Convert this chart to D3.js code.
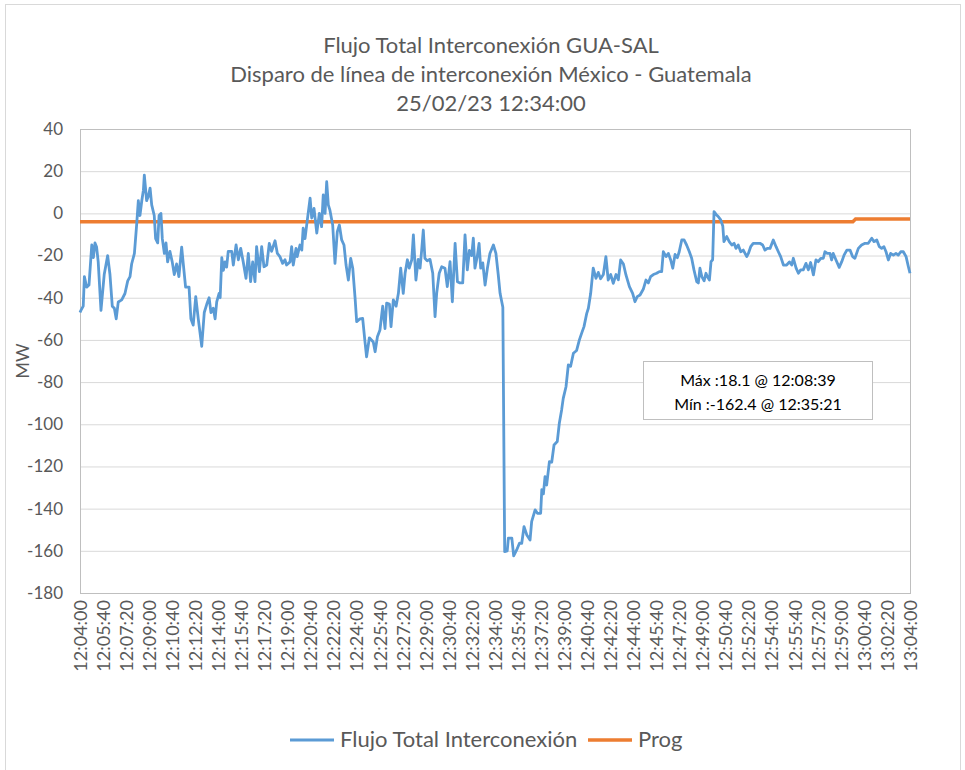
<!DOCTYPE html>
<html><head><meta charset="utf-8">
<script src="https://cdn.jsdelivr.net/npm/d3@7"></script>
<style>body{margin:0;background:#fff}svg{display:block;font-family:Lato,"Liberation Sans",sans-serif}</style>
</head><body><div id="chart"></div>
<script>
const titleLines = ["Flujo Total Interconexión GUA-SAL","Disparo de línea de interconexión México - Guatemala","25/02/23 12:34:00"];
const startTime = "12:04:00";
const seriesNames = ["Flujo Total Interconexión","Prog"];
const yTicks = [40,20,0,-20,-40,-60,-80,-100,-120,-140,-160,-180];
const xTickSeconds = d3.range(0, 3601, 100);
// seconds after 12:04:00
const flowSeconds = [0,4,14,19,29,39,51,58,65,72,79,91,105,120,130,140,149,157,166,181,195,207,217,224,236,246,253,260,268,275,279,289,296,304,311,322,328,337,343,351,357,366,373,380,390,400,409,419,429,441,448,458,473,481,491,502,513,528,539,550,560,568,578,586,593,603,608,
615,622,629,636,643,658,665,677,687,697,708,720,730,740,749,759,766,778,788,798,810,821,831,846,856,867,879,889,896,911,918,925,937,942,954,962,968,976,986,998,1005,1015,1027,1038,1048,1055,1063,1070,1077,1084,1096,1106,1116,1125,1135,1145,1154,1164,1174,1183,1193,1200,1214,1226,1236,1243,1255,
1272,1280,1290,1301,1313,1323,1330,1342,1349,1359,1371,1381,1391,1402,1410,1420,1428,1439,1446,1457,1467,1475,1482,1489,1496,1506,1518,1530,1540,1547,1558,1569,1583,1593,1605,1615,1627,1637,1648,1660,1670,1680,1689,1699,1706,1713,1723,1731,1738,1747,1757,1767,1778,1793,1804,1814,1822,1834,
1842,1853,1858,1873,1881,1894,1906,1916,1926,1938,1952,1959,1974,1984,1998,2003,2010,2017,2024,2036,2046,2056,2070,2079,2089,2096,2108,2118,2128,2140,2154,2166,2176,2186,2198,2205,2215,2226,2238,2248,2258,2270,2281,2291,2302,2313,2325,2335,2345,2357,2368,2383,2397,2407,2417,2429,2443,2455,2465,2475,2487,2501,2513,2523,2530,2542,2552,2562,2571,2581,2591,2599,2610,2620,2631,2643,2653,2663,2675,2682,2689,2697,2707,2715,2721,2730,2737,2744,
2750,2759,2769,2779,2788,2793,2805,2816,2827,2837,2845,2855,2866,2877,2892,2899,2909,2920,2935,2949,2961,2971,2981,2993,3007,3019,3029,3039,3051,3065,3077,3087,3094,3106,3116,3126,3137,3149,3159,3169,3181,3192,3202,3213,3224,3231,3241,3253,3260,3267,3279,3293,3304,3314,3326,3340,3351,3361,3376,3390,3405,3419,3434,3444,3456,3467,3477,3487,3496,3506,3516,3528,3539,3549,3560,3571,3583,3593,3600];
const flowValues = [-47,-46,-44,-30,-35,-34,-15,-21,-14,-16,-23,-46,-29,-20,-29,-44,-45,-50,-42,-41,-38,-32,-30,-24,-19,-5,6,-1,6,11,18.1,6,8,12,4,-1,-12,-14,-1,0,-12,-19,-14,-23,-18,-23,-29,-24,-30,-16,-24,-35,-35,-50,-53,-39.5,-50,-63,-47,-43,-40,-47,-45,-50,-42,-38,-40,
-21,-27,-23,-25.5,-18,-18,-24.5,-15,-22,-16.6,-23,-30.8,-19,-32.4,-23,-32.4,-15.8,-27.6,-15.8,-25.3,-24.5,-14.2,-18,-13,-19,-20.5,-23.7,-22,-24.5,-23,-15.8,-24.5,-16.6,-20.5,-15,-17.4,-7,-12,-3.1,7.2,-2.2,2.4,-9.4,0,-6.3,8.7,0,15,4,1.5,-5.5,-23.7,-8.7,-5.5,-12.6,-15,-24.5,-31.6,-21.3,-26,-40,-51.3,-50,-49.8,-60.8,-68,-59,
-61,-65.6,-58.5,-55.3,-44,-54.6,-42.6,-43,-53.7,-41,-44,-37.9,-26,-37.9,-28.4,-22,-26,-22,-10.2,-31.6,-21.8,-26,-17.4,-7.9,-21.3,-22.5,-21.8,-28.4,-49,-37.9,-28.4,-25.3,-26,-34.7,-22.9,-41.9,-14.2,-32.4,-33,-33,-10.2,-26.8,-17.6,-20,-11.8,-26,-20.5,-14.2,-26,-23.5,-34,-26,-19,-15,-19,-29,-37.9,-44.5,
-160.4,-160,-154,-154,-162.4,-159.6,-156.4,-156.4,-148.5,-152.5,-154.9,-146.2,-140.6,-142.2,-142.2,-131,-133,-124.8,-128.8,-117.7,-118,-109.8,-108.2,-99.5,-93.2,-87.7,-82.2,-71.9,-72.5,-66.3,-65,-60,-56.8,-53.7,-47.4,-45,-37.9,-26,-30.8,-28,-31,-29,-20.5,-31.6,-29,-33.2,-29,-31.5,-22.1,-24,-29.2,-34.7,-37.9,-41.9,-39.5,-38.7,-36,-31.6,-33,-30,-29,-28.4,-27.6,-27.6,-18.2,-20.5,-19,-22.1,-26,-19.5,-21,-18.2,-12.6,-12.6,-15,-18.2,-21.3,-26.8,-32.4,-33,-26,-30,-32,-28.4,-30,-31.6,-22.9,-22,
0.8,-0.5,-1.6,-3.1,-6,-13.4,-11,-13.4,-15,-14.2,-16.6,-15,-18.2,-17.4,-20.5,-19,-15.8,-14.2,-14.2,-14.2,-15,-17.4,-16.6,-16.6,-12.6,-15.8,-18.2,-20.5,-24.5,-24.5,-23,-24.5,-21.3,-26,-28.4,-26.8,-26.8,-23.7,-26.8,-23.3,-29.2,-22.1,-22.9,-21.3,-21.3,-18.2,-19,-19,-22.1,-19,-22.1,-25.6,-22.9,-19.8,-17.4,-17.4,-20.5,-21.3,-16.6,-15,-14.2,-14.2,-11.8,-13.4,-12.6,-15.8,-16.6,-15.8,-18.2,-22.1,-19,-19.8,-19,-19.8,-18.2,-18.2,-20.5,-25.3,-28.4];
const progSeconds = [0, 3352, 3364, 3600];
const progValues = [-4, -4, -2.7, -2.7];

const W = 965, H = 770;
const m = {left: 80, right: 55, top: 129, bottom: 177};
const svg = d3.select("#chart").append("svg").attr("width", W).attr("height", H);
svg.append("rect").attr("x",5.5).attr("y",4.5).attr("width",955).attr("height",790)
  .attr("fill","#fff").attr("stroke","#D9D9D9");

const x = d3.scaleLinear().domain([0,3600]).range([m.left, W - m.right]);
const y = d3.scaleLinear().domain([-180,40]).range([H - m.bottom, m.top]);

const base = d3.timeParse("%H:%M:%S")(startTime);
const fmt = d3.timeFormat("%H:%M:%S");
const toLabel = s => fmt(new Date(base.getTime() + s*1000));

// gridlines
svg.append("g").selectAll("line").data(yTicks).join("line")
  .attr("x1", x(0)).attr("x2", x(3600)).attr("y1", d=>y(d)+0.5).attr("y2", d=>y(d)+0.5)
  .attr("stroke","#D9D9D9").attr("stroke-width",1);
// plot border
svg.append("rect").attr("x", x(0)+0.5).attr("y", y(40)+0.5).attr("width", x(3600)-x(0)).attr("height", y(-180)-y(40))
  .attr("fill","none").attr("stroke","#BFBFBF");

// y axis
const yAxis = svg.append("g").attr("transform",`translate(${x(0)},0)`)
  .call(d3.axisLeft(y).tickValues(yTicks).tickFormat(d=>String(d)).tickSize(0).tickPadding(17));
yAxis.select(".domain").remove();
yAxis.selectAll("text").attr("font-size",17).attr("fill","#595959").attr("font-family","Lato");

// x axis
const xAxis = svg.append("g").attr("transform",`translate(0,${y(-180)})`)
  .call(d3.axisBottom(x).tickValues(xTickSeconds).tickFormat(toLabel).tickSize(0));
xAxis.select(".domain").remove();
xAxis.selectAll("text").attr("font-size",18).attr("fill","#595959").attr("font-family","Lato")
  .attr("transform","rotate(-90)").attr("text-anchor","end").attr("dy","0.35em").attr("y",0).attr("x",-7);

// MW label
svg.append("text").attr("transform",`translate(29,${(y(40)+y(-180))/2}) rotate(-90)`)
  .attr("text-anchor","middle").attr("font-size",18).attr("fill","#595959").text("MW");

// title
svg.append("g").selectAll("text").data(titleLines).join("text")
  .attr("x", 491).attr("y",(d,i)=>53+i*29).attr("text-anchor","middle")
  .attr("font-size",22).attr("fill","#595959").text(d=>d);

// lines
const flow = flowSeconds.map((s,i)=>({s, v: flowValues[i]}));
const prog = progSeconds.map((s,i)=>({s, v: progValues[i]}));
const line = d3.line().x(d=>x(d.s)).y(d=>y(d.v));
svg.append("path").datum(prog).attr("d",line).attr("fill","none").attr("stroke","#ED7D31").attr("stroke-width",3.5);
svg.append("path").datum(flow).attr("d",line).attr("fill","none").attr("stroke","#5B9BD5")
  .attr("stroke-width",2.8).attr("stroke-linejoin","round");

// annotation
const maxP = flow.reduce((a,b)=>b.v>a.v?b:a), minP = flow.reduce((a,b)=>b.v<a.v?b:a);
const ann = svg.append("g");
ann.append("rect").attr("x",643.5).attr("y",361.5).attr("width",229).attr("height",58)
  .attr("fill","#fff").attr("stroke","#BFBFBF");
ann.append("text").attr("x",758).attr("y",386).attr("text-anchor","middle").attr("font-size",16).attr("fill","#000")
  .text(`Máx :${maxP.v.toFixed(1)} @ ${toLabel(maxP.s)}`);
ann.append("text").attr("x",758).attr("y",410).attr("text-anchor","middle").attr("font-size",16).attr("fill","#000")
  .text(`Mín :${minP.v.toFixed(1)} @ ${toLabel(minP.s)}`);

// legend
const leg = svg.append("g");
const legItems = [{name:seriesNames[0], c:"#5B9BD5", w:2.8, x0:290}, {name:seriesNames[1], c:"#ED7D31", w:3.5, x0:588}];
legItems.forEach(it=>{
  leg.append("line").attr("x1",it.x0).attr("x2",it.x0+44).attr("y1",740).attr("y2",740).attr("stroke",it.c).attr("stroke-width",it.w);
  leg.append("text").attr("x",it.x0+50).attr("y",747).attr("font-size",22).attr("fill","#595959").text(it.name);
});
</script></body></html>
